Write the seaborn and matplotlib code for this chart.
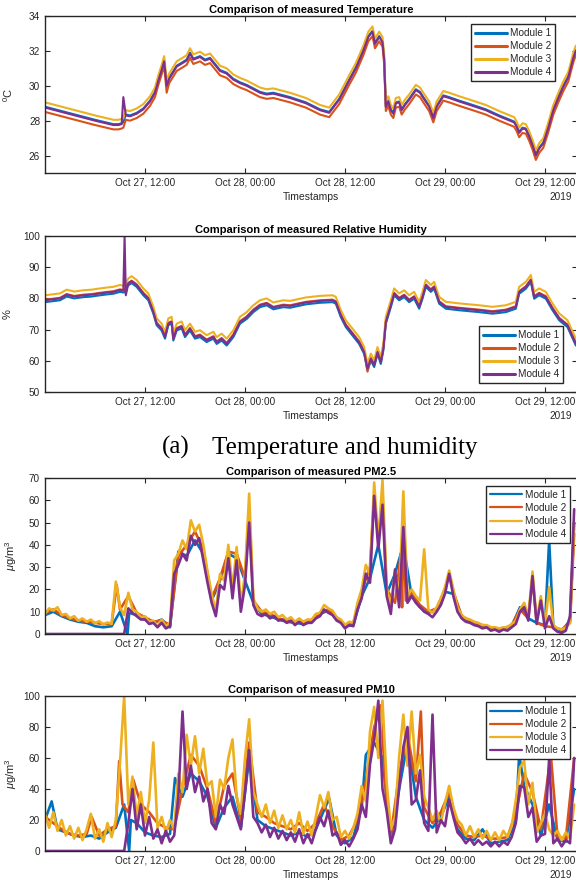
import pandas as pd
import matplotlib
matplotlib.use("Agg")
import matplotlib.pyplot as plt
from matplotlib.lines import Line2D
import matplotlib.dates as mdates
import seaborn as sns

MODULES = ["Module 1", "Module 2", "Module 3", "Module 4"]
COLORS = ["#0072BD", "#D95319", "#EDB120", "#7E2F8E"]
START = pd.Timestamp("2019-10-27 00:00")
END_HOURS = 63.84
TICK_HOURS = [12, 24, 36, 48, 60]

# ---------------- Temperature (hours after Oct 27 00:00) ----------------
temp_hours = [0, 2, 4, 6, 8.2, 8.8, 9.2, 9.4, 9.7, 10.2, 11, 11.8, 12.6, 13.2, 13.6,
              14.0, 14.3, 14.6, 14.9, 15.8, 16.5, 17.0, 17.4, 17.8, 18.6, 19.2, 19.8,
              20.4, 21.0, 21.8, 22.6, 23.4, 24.2, 25.0, 25.8, 26.6, 27.4, 28.2, 29.4,
              31.3, 33.0, 34.1, 35.3, 36.5, 37.3, 38.2, 38.8, 39.3, 39.6, 40.1, 40.5,
              40.7, 40.9, 41.2, 41.5, 41.8, 42.1, 42.5, 42.8, 43.2, 43.7, 44.5, 45.0,
              45.4, 46.1, 46.6, 47.0, 47.8, 48.5, 49.7, 51.0, 52.9, 54.5, 56.3, 56.6,
              56.9, 57.3, 57.7, 58.1, 58.5, 58.9, 59.3, 59.8, 60.4, 61.0, 61.6, 62.2,
              62.8, 63.4, 63.7]
temp_m1 = [28.8, 28.55, 28.3, 28.05, 27.8, 27.8, 27.85, 27.9, 28.35, 28.3, 28.45, 28.7,
           29.15, 29.65, 30.35, 30.95, 31.45, 30.05, 30.45, 31.15, 31.35, 31.5, 31.9,
           31.55, 31.7, 31.5, 31.6, 31.25, 30.9, 30.75, 30.4, 30.2, 30.05, 29.85, 29.65,
           29.55, 29.6, 29.5, 29.35, 29.05, 28.65, 28.5, 29.25, 30.35, 31.05, 32.05,
           32.85, 33.15, 32.45, 32.85, 32.55, 31.55, 28.85, 29.15, 28.65, 28.45, 29.05,
           29.1, 28.65, 28.95, 29.25, 29.8, 29.65, 29.35, 28.85, 28.2, 28.85, 29.45,
           29.35, 29.15, 28.95, 28.65, 28.3, 27.95, 27.7, 27.35, 27.6, 27.55, 27.15,
           26.65, 26.05, 26.45, 26.75, 27.65, 28.65, 29.35, 30.0, 30.55, 31.65, 32.05]
temp_m2 = [28.5, 28.25, 28.0, 27.75, 27.5, 27.5, 27.55, 27.6, 28.05, 28.0, 28.15, 28.4,
           28.85, 29.35, 30.05, 30.65, 31.15, 29.6, 30.15, 30.85, 31.05, 31.2, 31.6,
           31.25, 31.4, 31.2, 31.3, 30.95, 30.6, 30.45, 30.1, 29.9, 29.75, 29.55, 29.35,
           29.25, 29.3, 29.2, 29.05, 28.75, 28.35, 28.2, 28.95, 30.05, 30.75, 31.75,
           32.55, 32.85, 32.15, 32.55, 32.25, 31.25, 28.55, 28.85, 28.35, 28.15, 28.75,
           28.8, 28.35, 28.65, 28.95, 29.5, 29.35, 29.05, 28.55, 27.9, 28.55, 29.15,
           29.05, 28.85, 28.65, 28.35, 28.0, 27.65, 27.4, 27.05, 27.3, 27.25, 26.85,
           26.35, 25.75, 26.15, 26.45, 27.35, 28.35, 29.05, 29.7, 30.25, 31.35, 31.75]
temp_m3 = [29.05, 28.8, 28.55, 28.3, 28.05, 28.05, 28.1, 28.15, 28.6, 28.55, 28.7, 28.95,
           29.4, 29.9, 30.6, 31.2, 31.7, 30.3, 30.7, 31.4, 31.6, 31.75, 32.15, 31.8,
           31.95, 31.75, 31.85, 31.5, 31.15, 31.0, 30.65, 30.45, 30.3, 30.1, 29.9, 29.8,
           29.85, 29.75, 29.6, 29.3, 28.9, 28.75, 29.5, 30.6, 31.3, 32.3, 33.1, 33.4,
           32.7, 33.1, 32.8, 31.8, 29.1, 29.4, 28.9, 28.7, 29.3, 29.35, 28.9, 29.2, 29.5,
           30.05, 29.9, 29.6, 29.1, 28.45, 29.1, 29.7, 29.6, 29.4, 29.2, 28.9, 28.55,
           28.2, 27.95, 27.6, 27.85, 27.8, 27.4, 26.9, 26.3, 26.7, 27.0, 27.9, 28.9,
           29.6, 30.25, 30.8, 31.9, 32.3]
temp_m4 = [28.75, 28.5, 28.25, 28.0, 27.75, 27.75, 27.8, 29.35, 28.3, 28.25, 28.4, 28.65,
           29.1, 29.6, 30.3, 30.9, 31.4, 30.0, 30.4, 31.1, 31.3, 31.45, 31.85, 31.5,
           31.65, 31.45, 31.55, 31.2, 30.85, 30.7, 30.35, 30.15, 30.0, 29.8, 29.6, 29.5,
           29.55, 29.45, 29.3, 29.0, 28.6, 28.45, 29.2, 30.3, 31.0, 32.0, 32.8, 33.1,
           32.4, 32.8, 32.5, 31.5, 28.8, 29.1, 28.6, 28.4, 29.0, 29.05, 28.6, 28.9, 29.2,
           29.75, 29.6, 29.3, 28.8, 28.15, 28.8, 29.4, 29.3, 29.1, 28.9, 28.6, 28.25,
           27.9, 27.65, 27.3, 27.55, 27.5, 27.1, 26.6, 26.0, 26.4, 26.7, 27.6, 28.6,
           29.3, 29.95, 30.5, 31.6, 32.0]

# ---------------- Relative humidity ----------------
rh_hours = [0, 1.8, 2.6, 3.5, 4.6, 5.6, 6.6, 7.5, 8.2, 9.0, 9.4, 9.55, 9.7, 10.0, 10.4,
            11.0, 11.8, 12.4, 13.0, 13.4, 14.0, 14.4, 14.8, 15.2, 15.4, 15.8, 16.4, 16.8,
            17.4, 18.0, 18.6, 19.4, 20.2, 20.6, 21.2, 21.8, 22.6, 23.4, 24.2, 25.0, 25.8,
            26.6, 27.4, 28.6, 29.4, 31.3, 33.0, 34.5, 34.9, 35.5, 36.1, 36.9, 37.7, 38.3,
            38.7, 39.1, 39.5, 39.9, 40.3, 40.6, 40.9, 41.5, 41.9, 42.5, 43.1, 43.7, 44.3,
            44.9, 45.3, 45.7, 46.3, 46.7, 47.3, 48.1, 49.7, 52.1, 53.7, 55.3, 56.5, 56.9,
            57.7, 58.3, 58.7, 59.3, 60.1, 60.9, 61.7, 62.7, 63.7]
rh_m1 = [78.8, 79.4, 80.6, 80.0, 80.4, 80.6, 81.0, 81.3, 81.5, 82.1, 81.9, 81.9, 83.0,
         84.2, 84.9, 83.7, 81.0, 79.4, 75.1, 71.4, 69.7, 67.1, 71.4, 71.9, 66.5, 69.7,
         70.4, 67.6, 69.7, 67.1, 67.6, 66.0, 67.1, 65.4, 66.5, 64.9, 67.6, 71.9, 73.4,
         75.6, 77.2, 77.8, 76.5, 77.2, 77.0, 78.1, 78.6, 78.8, 78.3, 74.0, 70.8, 68.1,
         65.4, 62.2, 56.9, 60.1, 58.0, 62.2, 59.0, 63.3, 71.9, 77.2, 81.0, 79.4, 80.4,
         78.8, 79.9, 76.7, 79.9, 83.7, 82.1, 83.1, 78.3, 76.7, 76.2, 75.6, 75.1, 75.6,
         76.7, 81.5, 83.1, 85.3, 79.9, 81.0, 79.9, 76.2, 73.0, 70.8, 64.9]
rh_m2 = [79.6, 80.2, 81.4, 80.8, 81.2, 81.4, 81.8, 82.1, 82.3, 82.9, 82.7, 82.7, 83.6,
         85.0, 85.7, 84.5, 81.8, 80.2, 75.9, 72.2, 70.5, 67.9, 72.2, 72.7, 67.3, 70.5,
         71.2, 68.4, 70.5, 67.9, 68.4, 66.8, 67.9, 66.2, 67.3, 65.7, 68.4, 72.7, 74.2,
         76.4, 78.0, 78.6, 77.3, 78.0, 77.8, 78.9, 79.4, 79.6, 79.1, 74.8, 71.6, 68.9,
         66.2, 63.0, 56.5, 60.9, 58.8, 63.0, 59.8, 64.1, 72.7, 78.0, 81.8, 80.2, 81.2,
         79.6, 80.7, 77.5, 80.7, 84.5, 82.9, 83.9, 79.1, 77.5, 77.0, 76.4, 75.9, 76.4,
         77.5, 82.3, 83.9, 86.1, 80.7, 81.8, 80.7, 77.0, 73.8, 71.6, 65.7]
rh_m3 = [81.0, 81.6, 82.8, 82.2, 82.6, 82.8, 83.2, 83.5, 83.7, 84.3, 84.1, 84.1, 85.0,
         86.4, 87.1, 85.9, 83.2, 81.6, 77.3, 73.6, 71.9, 69.3, 73.6, 74.1, 68.7, 71.9,
         72.6, 69.8, 71.9, 69.3, 69.8, 68.2, 69.3, 67.6, 68.7, 67.1, 69.8, 74.1, 75.6,
         77.8, 79.4, 80.0, 78.7, 79.4, 79.2, 80.3, 80.8, 81.0, 80.5, 76.2, 73.0, 70.3,
         67.6, 64.4, 59.1, 62.3, 60.2, 64.4, 61.2, 65.5, 74.1, 79.4, 83.2, 81.6, 82.6,
         81.0, 82.1, 78.9, 82.1, 85.9, 84.3, 85.3, 80.5, 78.9, 78.4, 77.8, 77.3, 77.8,
         78.9, 83.7, 85.3, 87.5, 82.1, 83.2, 82.1, 78.4, 75.2, 73.0, 67.1]
rh_m4 = [79.4, 80.0, 81.2, 80.6, 81.0, 81.2, 81.6, 81.9, 82.1, 82.7, 82.5, 100.0, 81.0,
         84.8, 85.5, 84.3, 81.6, 80.0, 75.7, 72.0, 70.3, 67.7, 72.0, 72.5, 67.1, 70.3,
         71.0, 68.2, 70.3, 67.7, 68.2, 66.6, 67.7, 66.0, 67.1, 65.5, 68.2, 72.5, 74.0,
         76.2, 77.8, 78.4, 77.1, 77.8, 77.6, 78.7, 79.2, 79.4, 78.9, 74.6, 71.4, 68.7,
         66.0, 62.8, 57.5, 60.7, 58.6, 62.8, 59.6, 63.9, 72.5, 77.8, 81.6, 80.0, 81.0,
         79.4, 80.5, 77.3, 80.5, 84.3, 82.7, 83.7, 78.9, 77.3, 76.8, 76.2, 75.7, 76.2,
         77.3, 82.1, 83.7, 85.9, 80.5, 81.6, 80.5, 76.8, 73.6, 71.4, 65.5]

# ---------------- Particulate matter: half-hourly readings ----------------
pm_hours = [0.0, 0.5, 1.0, 1.5, 2.0, 2.5, 3.0, 3.5, 4.0, 4.5, 5.0, 5.5, 6.0, 6.5, 7.0, 7.5,
            8.0, 8.5, 9.0, 9.5, 10.0, 10.5, 11.0, 11.5, 12.0, 12.5, 13.0, 13.5, 14.0,
            14.5, 15.0, 15.5, 16.0, 16.5, 17.0, 17.5, 18.0, 18.5, 19.0, 19.5, 20.0, 20.5,
            21.0, 21.5, 22.0, 22.5, 23.0, 23.5, 24.0, 24.5, 25.0, 25.5, 26.0, 26.5, 27.0,
            27.5, 28.0, 28.5, 29.0, 29.5, 30.0, 30.5, 31.0, 31.5, 32.0, 32.5, 33.0, 33.5,
            34.0, 34.5, 35.0, 35.5, 36.0, 36.5, 37.0, 37.5, 38.0, 38.5, 39.0, 39.5, 40.0,
            40.5, 41.0, 41.5, 42.0, 42.5, 43.0, 43.5, 44.0, 44.5, 45.0, 45.5, 46.0, 46.5,
            47.0, 47.5, 48.0, 48.5, 49.0, 49.5, 50.0, 50.5, 51.0, 51.5, 52.0, 52.5, 53.0,
            53.5, 54.0, 54.5, 55.0, 55.5, 56.0, 56.5, 57.0, 57.5, 58.0, 58.5, 59.0, 59.5,
            60.0, 60.5, 61.0, 61.5, 62.0, 62.5, 63.0, 63.5]

pm25_m3 = [9.0, 11.5, 10.5, 12.0, 8.5, 9.0, 7.0, 8.0, 6.0, 7.0, 5.5, 6.5, 4.8, 5.8, 4.2,
           5.2, 4.5, 23.5, 12.0, 8.5, 18.5, 11.0, 10.0, 7.5, 8.0, 5.5, 6.0, 3.5, 6.5, 3.5,
           5.0, 33.0, 36.0, 42.0, 38.0, 51.0, 46.0, 49.0, 40.0, 28.0, 18.0, 10.0, 27.0,
           24.0, 40.0, 20.0, 39.0, 13.0, 27.0, 63.0, 16.0, 11.5, 10.0, 11.0, 9.0, 10.0,
           7.5, 8.5, 6.5, 7.5, 5.5, 7.0, 5.5, 6.5, 6.5, 9.0, 9.5, 13.0, 11.5, 10.5, 7.5,
           6.5, 4.0, 5.5, 5.0, 14.0, 20.0, 31.0, 27.0, 68.0, 42.0, 69.0, 21.0, 12.0, 28.0,
           15.0, 64.0, 17.0, 20.0, 17.0, 15.0, 38.0, 11.0, 9.5, 12.0, 16.0, 21.0, 28.5,
           20.0, 12.0, 8.5, 7.0, 6.5, 5.5, 5.0, 4.0, 4.0, 3.0, 3.0, 2.5, 3.0, 3.0, 4.5,
           6.0, 11.0, 14.0, 8.0, 28.0, 6.0, 17.0, 4.0, 21.0, 4.0, 2.5, 2.0, 3.0, 5.0, 50.0]
pm25_m4 = [0, 0, 0, 0, 0, 0, 0, 0, 0, 0, 0, 0, 0, 0, 0, 0, 0, 0, 0, 0, 11.5, 9.5, 8.0,
           6.5, 6.5, 4.5, 5.0, 3.0, 5.0, 2.5, 3.5, 27.0, 31.0, 36.0, 33.0, 44.0, 40.0,
           43.0, 33.0, 23.0, 14.0, 8.0, 22.0, 20.0, 34.0, 16.0, 33.0, 10.0, 22.0, 50.0,
           13.0, 9.0, 8.0, 9.0, 7.0, 8.0, 6.0, 6.5, 5.0, 6.0, 4.0, 5.5, 4.0, 5.0, 5.0,
           7.0, 8.0, 11.0, 9.5, 8.5, 6.0, 5.0, 2.5, 4.0, 3.5, 11.0, 16.0, 27.0, 23.0,
           62.0, 38.0, 58.0, 17.0, 9.0, 29.0, 12.0, 48.0, 14.0, 17.0, 14.0, 12.0, 10.0,
           9.0, 7.5, 10.0, 13.0, 18.0, 27.0, 17.0, 10.0, 7.0, 5.5, 5.0, 4.0, 3.5, 2.5,
           3.0, 1.5, 2.0, 1.0, 2.0, 1.5, 3.0, 4.5, 10.0, 12.0, 6.0, 26.0, 4.5, 15.0, 2.5,
           8.0, 2.5, 1.0, 0.5, 1.5, 8.0, 56.0]
pm25_m1_hours = [0, 1, 2, 3, 4, 5, 6, 7, 8, 9, 9.9, 10.1, 11, 12, 13, 14, 15, 16, 17, 18,
                 19, 20, 21, 22, 23, 24, 25, 26, 27, 28, 29, 30, 31, 32, 33, 34, 35, 36,
                 37, 38, 39, 40, 41, 42, 43, 44, 45, 46, 47, 48, 49, 50, 51, 52, 53, 54,
                 55, 56, 57, 58, 59, 60, 60.5, 61, 62, 63, 63.5]
pm25_m1 = [8.5, 10.0, 8.0, 6.5, 5.5, 5.0, 3.5, 3.0, 3.5, 10.0, 0.0, 9.5, 8.5, 6.5, 5.0,
           6.5, 3.0, 37.0, 35.0, 42.0, 36.0, 15.0, 24.0, 36.0, 34.0, 24.0, 14.0, 9.0, 8.0,
           6.5, 5.5, 5.0, 4.5, 5.5, 9.0, 10.5, 7.0, 3.5, 4.0, 17.0, 25.0, 40.0, 18.0,
           27.0, 40.0, 17.0, 12.0, 9.5, 11.0, 19.0, 18.0, 8.0, 5.5, 4.0, 3.0, 2.0, 2.0,
           3.5, 12.0, 7.0, 5.0, 4.0, 42.0, 3.0, 1.5, 6.0, 50.0]
pm25_m2_hours = [0, 1, 2, 3, 4, 5, 6, 7, 8, 8.6, 9, 10, 11, 12, 13, 14, 15, 16, 17, 18, 19,
                 20, 21, 22, 23, 24, 24.5, 25, 26, 27, 28, 29, 30, 31, 32, 33, 34, 35, 36,
                 37, 38, 39, 39.5, 40, 40.5, 41, 42, 42.7, 42.85, 43, 43.3, 44, 45, 46,
                 47, 48, 48.5, 49, 50, 51, 52, 53, 54, 55, 56, 57, 58, 58.5, 59, 60, 61,
                 62, 63, 63.5]
pm25_m2 = [9.5, 11.0, 8.5, 7.0, 6.0, 5.5, 5.0, 4.5, 4.5, 22.0, 11.0, 17.0, 9.5, 7.5, 5.5,
           6.0, 4.0, 35.0, 40.0, 46.0, 38.0, 16.0, 25.0, 37.0, 36.0, 25.0, 55.0, 15.0,
           10.0, 9.0, 7.0, 6.0, 5.5, 5.0, 6.0, 9.5, 11.0, 7.5, 4.0, 5.0, 19.0, 30.0, 62.0,
           42.0, 62.0, 20.0, 14.0, 36.0, 12.0, 51.0, 15.0, 18.0, 13.0, 10.0, 11.5, 20.0,
           27.0, 19.0, 8.0, 6.0, 4.5, 3.5, 2.5, 2.5, 4.0, 11.0, 7.0, 25.0, 5.0, 3.5, 3.0,
           2.0, 5.0, 45.0]

pm10_m3 = [24, 15, 25, 13, 20, 10, 16, 8, 15, 7, 14, 24, 8, 14, 6, 18, 9, 20, 57, 100,
           30, 48, 22, 38, 18, 33, 70, 15, 22, 12, 20, 14, 50, 38, 75, 55, 74, 50, 66, 42,
           45, 22, 46, 40, 60, 72, 35, 24, 60, 85, 38, 30, 22, 30, 18, 26, 15, 23, 14, 20,
           12, 25, 11, 19, 10, 22, 36, 28, 38, 20, 22, 9, 13, 8, 15, 24, 42, 32, 77, 93,
           60, 97, 44, 14, 22, 61, 88, 55, 90, 50, 62, 35, 28, 20, 26, 18, 31, 42, 28, 20,
           17, 10, 16, 9, 14, 8, 13, 7, 12, 7, 13, 9, 16, 33, 54, 58, 30, 44, 12, 18, 24,
           14, 10, 13, 7, 12, 8, 30]
pm10_m4 = [0, 0, 0, 0, 0, 0, 0, 0, 0, 0, 0, 0, 0, 0, 0, 0, 0, 0, 0, 0, 18, 40, 14, 30, 10,
           22, 8, 14, 5, 13, 6, 10, 35, 90, 40, 55, 38, 48, 32, 40, 18, 14, 30, 24, 42, 30,
           22, 14, 38, 65, 22, 18, 12, 17, 9, 15, 8, 13, 7, 12, 6, 14, 5, 11, 5, 14, 22,
           16, 26, 10, 12, 4, 7, 3, 8, 14, 30, 22, 56, 72, 97, 40, 26, 5, 14, 41, 67, 80,
           30, 33, 52, 18, 13, 88, 12, 20, 16, 33, 22, 12, 9, 5, 8, 4, 7, 4, 6, 3, 6, 3, 6,
           4, 9, 18, 42, 41, 22, 28, 6, 10, 11, 60, 5, 8, 3, 7, 5, 60]
pm10_m1_hours = [0, 0.8, 1.5, 2.5, 3.5, 4.5, 5.5, 6.5, 7.5, 8.5, 9.5, 10.1, 10.3, 11, 12,
                 13, 14, 15, 15.6, 16.5, 17.5, 18.5, 19.5, 20.5, 21.5, 22.5, 23.5, 24.5,
                 25.5, 26.5, 27.5, 28.5, 29.5, 30.5, 31.5, 32.5, 34.1, 35, 36, 37, 38,
                 38.5, 39.5, 40.5, 41.5, 42.5, 43.5, 44.5, 45.5, 46.5, 47.5, 48.5, 49.5,
                 50.5, 51.5, 52.5, 53.5, 54.5, 55.5, 56.5, 56.9, 57.5, 58.5, 59.5, 60.5,
                 61.5, 62.5, 63.5]
pm10_m1 = [20, 32, 14, 12, 10, 9, 10, 8, 12, 15, 30, 0, 20, 18, 12, 10, 9, 11, 47, 35, 50,
           45, 35, 15, 28, 35, 15, 60, 20, 16, 14, 12, 10, 12, 9, 14, 34, 10, 5, 9, 28, 62,
           70, 60, 8, 40, 70, 35, 20, 15, 22, 35, 14, 8, 7, 14, 5, 6, 7, 20, 62, 42, 30,
           10, 30, 7, 6, 40]
pm10_m2_hours = [0, 1, 2, 3, 4, 5, 5.6, 6.5, 7.5, 8.5, 8.9, 9.3, 10, 10.6, 11.5, 12.5,
                 13.5, 14.5, 15.5, 16.5, 17.5, 18.5, 19.5, 20.5, 21.5, 22.5, 23.5, 24.5,
                 25.5, 26.5, 27.5, 28.5, 29.5, 30.5, 31.5, 32.5, 33.5, 34.5, 35.5, 36.5,
                 37.5, 38.5, 39.5, 40.3, 40.9, 41.5, 42.5, 43.5, 44.5, 45.1, 45.5, 46.5,
                 47.5, 48.5, 49.5, 50.5, 51.5, 52.5, 53.5, 54.5, 55.5, 56.5, 57.5, 58.5,
                 59.5, 60.7, 61.5, 62.5, 63.5]
pm10_m2 = [22, 18, 14, 11, 10, 11, 22, 10, 14, 16, 58, 30, 25, 46, 30, 25, 18, 15, 14, 40,
           62, 55, 40, 18, 42, 50, 20, 70, 25, 22, 18, 16, 14, 18, 13, 18, 30, 16, 7, 10,
           20, 45, 80, 94, 38, 10, 50, 75, 45, 90, 28, 18, 25, 38, 17, 10, 9, 10, 8, 8, 9,
           25, 50, 38, 14, 62, 9, 8, 60]

# ---------------- assemble long-form tables ----------------
def long_frame(series):
    frames = []
    for name, (hours, values) in zip(MODULES, series):
        frames.append(pd.DataFrame({
            "time": START + pd.to_timedelta(hours, unit="h"),
            "value": values,
            "module": name,
        }))
    return pd.concat(frames, ignore_index=True)

panels = [
    dict(title="Comparison of measured Temperature", ylabel="$^0$C",
         data=long_frame([(temp_hours, temp_m1), (temp_hours, temp_m2),
                          (temp_hours, temp_m3), (temp_hours, temp_m4)]),
         ylim=(25, 34), yticks=[26, 28, 30, 32, 34], lw=1.5, leg_lw=2.2,
         top_px=16, bot_px=173, leg_loc="upper right", leg_anchor=(555, 24), ylab_px=15),
    dict(title="Comparison of measured Relative Humidity", ylabel="%",
         data=long_frame([(rh_hours, rh_m1), (rh_hours, rh_m2),
                          (rh_hours, rh_m3), (rh_hours, rh_m4)]),
         ylim=(50, 100), yticks=[50, 60, 70, 80, 90, 100], lw=1.5, leg_lw=2.2,
         top_px=236, bot_px=392, leg_loc="lower right", leg_anchor=(563, 383), ylab_px=13),
    dict(title="Comparison of measured PM2.5", ylabel="$\\mu$g/m$^3$",
         data=long_frame([(pm25_m1_hours, pm25_m1), (pm25_m2_hours, pm25_m2),
                          (pm_hours, pm25_m3), (pm_hours, pm25_m4)]),
         ylim=(0, 70), yticks=[0, 10, 20, 30, 40, 50, 60, 70], lw=1.9, leg_lw=1.6,
         top_px=478, bot_px=634, leg_loc="upper right", leg_anchor=(570, 486), ylab_px=19),
    dict(title="Comparison of measured PM10", ylabel="$\\mu$g/m$^3$",
         data=long_frame([(pm10_m1_hours, pm10_m1), (pm10_m2_hours, pm10_m2),
                          (pm_hours, pm10_m3), (pm_hours, pm10_m4)]),
         ylim=(0, 100), yticks=[0, 20, 40, 60, 80, 100], lw=1.9, leg_lw=1.6,
         top_px=696, bot_px=851, leg_loc="upper right", leg_anchor=(570, 702), ylab_px=19),
]

# ---------------- drawing ----------------
sns.set_style("ticks")
plt.rcParams["font.family"] = ["Liberation Sans", "DejaVu Sans"]
plt.rcParams["mathtext.fontset"] = "custom"
plt.rcParams["mathtext.rm"] = "Liberation Sans"
plt.rcParams["mathtext.it"] = "Liberation Sans:italic"

W, H = 576, 884
fig = plt.figure(figsize=(W / 100, H / 100), dpi=100)
INK = "#262626"
LEFT_PX, RIGHT_PX = 45, 577

for p in panels:
    ax = fig.add_axes([LEFT_PX / W, 1 - p["bot_px"] / H,
                       (RIGHT_PX - LEFT_PX) / W, (p["bot_px"] - p["top_px"]) / H])
    sns.lineplot(data=p["data"], x="time", y="value", hue="module",
                 hue_order=MODULES, palette=COLORS, estimator=None, errorbar=None,
                 sort=False, linewidth=p["lw"], legend=False, ax=ax)
    ax.set_xlim(START, START + pd.Timedelta(hours=END_HOURS))
    ax.set_ylim(*p["ylim"])
    ax.set_yticks(p["yticks"])
    ax.set_xticks([START + pd.Timedelta(hours=h) for h in TICK_HOURS])
    ax.xaxis.set_major_formatter(mdates.DateFormatter("%b %d, %H:%M"))
    ax.tick_params(direction="in", top=True, right=True, length=3.5, width=0.8,
                   labelsize=7.2, colors=INK, pad=3.5)
    for s in ax.spines.values():
        s.set_color(INK)
        s.set_linewidth(1.0)
    ax.set_title(p["title"], fontsize=8, fontweight="bold", color="black", pad=2.5)
    ax.set_xlabel("")
    ax.set_ylabel(p["ylabel"], fontsize=8, color=INK)
    ax.yaxis.set_label_coords((p["ylab_px"] - LEFT_PX) / (RIGHT_PX - LEFT_PX), 0.5)
    hpx = p["bot_px"] - p["top_px"]
    ax.text(0.5, -24 / hpx, "Timestamps", transform=ax.transAxes, ha="center",
            va="center", fontsize=7.5, color=INK)
    ax.text((561 - LEFT_PX) / (RIGHT_PX - LEFT_PX), -24 / hpx, "2019",
            transform=ax.transAxes, ha="center", va="center", fontsize=7.2, color=INK)
    handles = [Line2D([], [], color=c, lw=p["leg_lw"]) for c in COLORS]
    ax_x = (p["leg_anchor"][0] - LEFT_PX) / (RIGHT_PX - LEFT_PX)
    ax_y = (p["bot_px"] - p["leg_anchor"][1]) / hpx
    leg = ax.legend(handles, MODULES, loc=p["leg_loc"], bbox_to_anchor=(ax_x, ax_y),
                    borderaxespad=0, fontsize=7.2, frameon=True, fancybox=False,
                    framealpha=1, edgecolor=INK, handlelength=3.2, handletextpad=0.3,
                    labelspacing=0.3, borderpad=0.4)
    leg.get_frame().set_linewidth(1.0)

# caption between the two figure halves
fig.text(162 / W, 1 - 454 / H, "(a)", family="Liberation Serif", fontsize=18,
         ha="left", va="baseline", color="black")
fig.text(212 / W, 1 - 454 / H, "Temperature and humidity", family="Liberation Serif",
         fontsize=18, ha="left", va="baseline", color="black")

fig.savefig("out.png", dpi=100)
